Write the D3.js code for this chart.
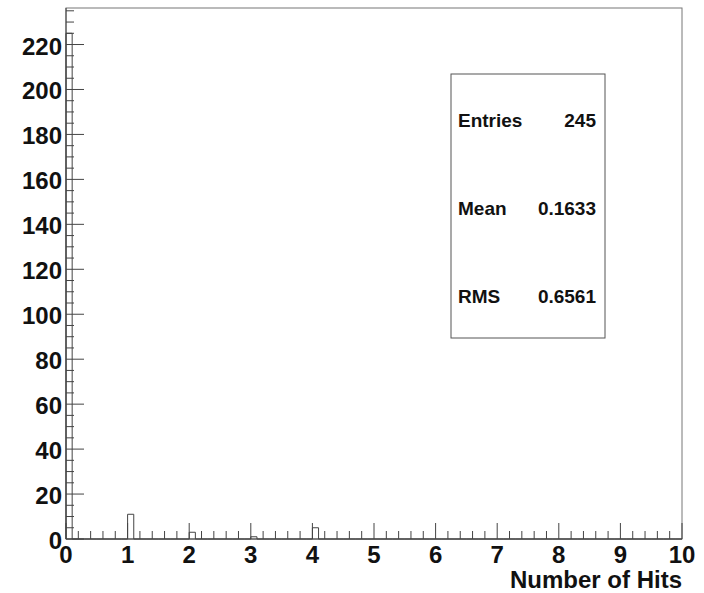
<!DOCTYPE html>
<meta charset="utf-8">
<head>
    <script src="https://d3js.org/d3.v7.min.js"></script>
</head>
<style>
    body { margin: 0; background: white; }
    text { font-family: 'Liberation Sans', Arial, sans-serif; font-weight: bold; fill: #111; }
</style>
<div id="my_dataviz"></div>
<script>

    // histogram content: bins of width 0.1 from 0 to 10, only non-empty ones listed
    var binLow = [0, 1, 2, 3, 4];
    var binCount = [225, 11, 3, 1, 5];
    var binWidth = 0.1;
    var nBins = 100;

    var xTicks = [0, 1, 2, 3, 4, 5, 6, 7, 8, 9, 10];
    var yTicks = [0, 20, 40, 60, 80, 100, 120, 140, 160, 180, 200, 220];

    var statNames = ["Entries", "Mean", "RMS"];
    var statValues = ["245", "0.1633", "0.6561"];

    var W = 704, H = 593;
    var frame = {left: 66, right: 682, top: 8, bottom: 539};

    var svg = d3.select("#my_dataviz")
        .append("svg")
        .attr("width", W)
        .attr("height", H);

    var x = d3.scaleLinear()
        .domain([0, 10])
        .range([frame.left, frame.right]);

    var y = d3.scaleLinear()
        .domain([0, 236.25])
        .range([frame.bottom, frame.top]);

    var lineCol = "#444";

    // frame
    svg.append("rect")
        .attr("x", frame.left)
        .attr("y", frame.top)
        .attr("width", frame.right - frame.left)
        .attr("height", frame.bottom - frame.top)
        .attr("fill", "none")
        .attr("stroke", "#777")
        .attr("stroke-width", 1);

    // histogram outline (step line over all bins)
    var pts = [];
    for (var i = 0; i < nBins; i++) {
        var lo = +(i * binWidth).toFixed(2);
        var k = binLow.indexOf(lo);
        pts.push([lo, k >= 0 ? binCount[k] : 0]);
    }
    pts.push([10, 0]);
    var step = d3.line()
        .x(function(d) { return x(d[0]); })
        .y(function(d) { return y(d[1]); })
        .curve(d3.curveStepAfter);
    svg.append("path")
        .datum([[0, 0]].concat(pts))
        .attr("d", step)
        .attr("fill", "none")
        .attr("stroke", lineCol)
        .attr("stroke-width", 1);

    // X axis: ticks pointing inward (up)
    var xAxis = svg.append("g");
    var xMinor = d3.range(0, 50).map(function(i) { return i * 0.2; })
        .filter(function(v) { return Math.abs(v - Math.round(v)) > 1e-6; });
    xAxis.selectAll(".xminor").data(xMinor).enter().append("line")
        .attr("x1", function(d) { return x(d); }).attr("x2", function(d) { return x(d); })
        .attr("y1", frame.bottom).attr("y2", frame.bottom - 8)
        .attr("stroke", lineCol);
    xAxis.selectAll(".xmajor").data(xTicks).enter().append("line")
        .attr("x1", function(d) { return x(d); }).attr("x2", function(d) { return x(d); })
        .attr("y1", frame.bottom).attr("y2", frame.bottom - 16)
        .attr("stroke", lineCol);
    xAxis.append("line")
        .attr("x1", frame.left).attr("x2", frame.right)
        .attr("y1", frame.bottom).attr("y2", frame.bottom)
        .attr("stroke", lineCol);
    xAxis.selectAll(".xlab").data(xTicks).enter().append("text")
        .attr("x", function(d) { return x(d); })
        .attr("y", 563)
        .attr("text-anchor", "middle")
        .style("font-size", "24px")
        .text(function(d) { return d; });

    // Y axis: ticks pointing inward (right)
    var yAxis = svg.append("g");
    var yMinor = d3.range(0, 48).map(function(i) { return i * 5; })
        .filter(function(v) { return v % 20 !== 0 && v <= 236; });
    yAxis.selectAll(".yminor").data(yMinor).enter().append("line")
        .attr("x1", frame.left).attr("x2", frame.left + 8)
        .attr("y1", function(d) { return y(d); }).attr("y2", function(d) { return y(d); })
        .attr("stroke", lineCol);
    yAxis.selectAll(".ymajor").data(yTicks).enter().append("line")
        .attr("x1", frame.left).attr("x2", frame.left + 18)
        .attr("y1", function(d) { return y(d); }).attr("y2", function(d) { return y(d); })
        .attr("stroke", lineCol);
    yAxis.append("line")
        .attr("x1", frame.left).attr("x2", frame.left)
        .attr("y1", frame.top).attr("y2", frame.bottom)
        .attr("stroke", lineCol);
    yAxis.selectAll(".ylab").data(yTicks).enter().append("text")
        .attr("x", 62)
        .attr("y", function(d) { return y(d) + 10; })
        .attr("text-anchor", "end")
        .style("font-size", "24px")
        .text(function(d) { return d; });

    // axis title
    svg.append("text")
        .attr("x", frame.right)
        .attr("y", 588)
        .attr("text-anchor", "end")
        .style("font-size", "24px")
        .text("Number of Hits");

    // stats box
    var box = {x: 451, y: 74, w: 154, h: 264};
    svg.append("rect")
        .attr("x", box.x).attr("y", box.y)
        .attr("width", box.w).attr("height", box.h)
        .attr("fill", "white")
        .attr("stroke", "#555");
    var rowY = [127, 215, 303];
    statNames.forEach(function(n, i) {
        svg.append("text")
            .attr("x", 458).attr("y", rowY[i])
            .style("font-size", "19px")
            .text(n);
        svg.append("text")
            .attr("x", 596).attr("y", rowY[i])
            .attr("text-anchor", "end")
            .style("font-size", "19px")
            .text(statValues[i]);
    });
</script>
